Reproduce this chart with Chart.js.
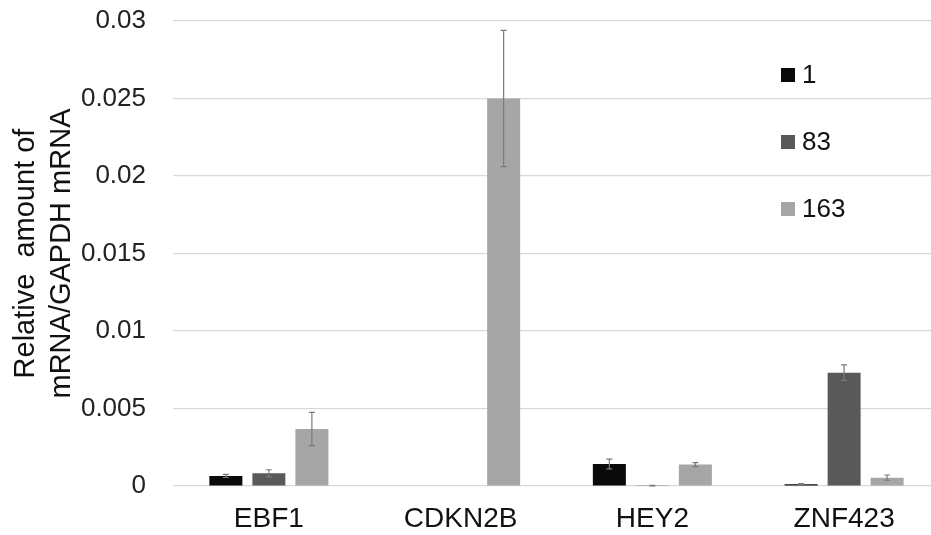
<!DOCTYPE html>
<html lang="en">
<head>
  <meta charset="UTF-8">
  <title>Relative mRNA amounts</title>
  <style>
    html, body { margin: 0; padding: 0; background: #fff; overflow: hidden; }
    #wrap { width: 940px; height: 535px; }
  </style>
  <script src="https://cdn.jsdelivr.net/npm/chart.js"></script>
</head>
<body>
  <div id="wrap">
    <canvas id="barChart" width="940" height="535"></canvas>
  </div>
  <script>
    // data
    const genes = ['EBF1', 'CDKN2B', 'HEY2', 'ZNF423'];
    const seriesNames = ['1', '83', '163'];
    const seriesColors = ['#0a0a0a', '#595959', '#a6a6a6'];

    const vals1 = [0.00065, 0, 0.00142, 0.00012];
    const vals83 = [0.00082, 0, 0.00001, 0.00731];
    const vals163 = [0.00368, 0.0250, 0.00138, 0.00054];

    const err1 = [0.0001, 0, 0.00032, 0.00003];
    const err83 = [0.00023, 0, 0.00003, 0.0005];
    const err163 = [0.00107, 0.0044, 0.00013, 0.00017];

    const yTicks = [0, 0.005, 0.01, 0.015, 0.02, 0.025, 0.03];
    const yTitle = ['Relative  amount of', 'mRNA/GAPDH mRNA'];

    const values = [vals1, vals83, vals163];
    const errors = [err1, err83, err163];

    // error bars drawn through the scales
    const errorBars = {
      id: 'errorBars',
      afterDatasetsDraw(chart) {
        const ctx = chart.ctx;
        const y = chart.scales.y;
        ctx.save();
        ctx.strokeStyle = '#7a7a7a';
        ctx.lineWidth = 1.2;
        chart.data.datasets.forEach((ds, di) => {
          const meta = chart.getDatasetMeta(di);
          meta.data.forEach((bar, i) => {
            const e = errors[di][i];
            if (!e) return;
            const v = ds.data[i];
            const top = y.getPixelForValue(v + e);
            const bot = y.getPixelForValue(Math.max(0, v - e));
            ctx.beginPath();
            ctx.moveTo(bar.x, top);
            ctx.lineTo(bar.x, bot);
            ctx.moveTo(bar.x - 3, top);
            ctx.lineTo(bar.x + 3, top);
            ctx.moveTo(bar.x - 3, bot);
            ctx.lineTo(bar.x + 3, bot);
            ctx.stroke();
          });
        });
        ctx.restore();
      }
    };

    // legend stacked inside the plot, top right
    const insideLegend = {
      id: 'insideLegend',
      afterDraw(chart) {
        const ctx = chart.ctx;
        ctx.save();
        ctx.font = '26px "Liberation Sans", Arial, sans-serif';
        ctx.textBaseline = 'middle';
        ctx.textAlign = 'left';
        chart.data.datasets.forEach((ds, i) => {
          const cy = 75 + i * 67;
          ctx.fillStyle = ds.backgroundColor;
          ctx.fillRect(781, cy - 7, 14, 14);
          ctx.fillStyle = '#111';
          ctx.fillText(ds.label, 802, cy + 1);
        });
        ctx.restore();
      }
    };

    new Chart(document.getElementById('barChart'), {
      type: 'bar',
      data: {
        labels: genes,
        datasets: seriesNames.map((name, i) => ({
          label: name,
          data: values[i],
          backgroundColor: seriesColors[i],
          borderWidth: 0,
          barPercentage: 0.767,
          categoryPercentage: 0.673
        }))
      },
      options: {
        responsive: false,
        animation: false,
        layout: { padding: { top: 21, right: 0, bottom: 0, left: 0 } },
        plugins: {
          legend: { display: false },
          tooltip: { enabled: false }
        },
        scales: {
          x: {
            grid: { display: false, drawTicks: false },
            border: { display: false },
            ticks: {
              padding: 16,
              color: '#111',
              font: { family: '"Liberation Sans", Arial, sans-serif', size: 28, lineHeight: 1.2 }
            },
            afterFit(scale) { scale.height = 49; }
          },
          y: {
            min: 0,
            max: 0.03,
            afterBuildTicks(scale) {
              scale.ticks = yTicks.map(v => ({ value: v }));
            },
            grid: { color: '#d9d9d9', lineWidth: 1.2, drawTicks: false },
            border: { display: false },
            ticks: {
              padding: 27,
              color: '#222',
              font: { family: '"Liberation Sans", Arial, sans-serif', size: 26 },
              callback: v => String(v)
            },
            title: {
              display: true,
              text: yTitle,
              color: '#111',
              padding: { top: 8, bottom: 0 },
              font: { family: '"Liberation Sans", Arial, sans-serif', size: 29, lineHeight: 1.24 }
            },
            afterFit(scale) {
              scale.width = 173;
              scale.paddingTop = 0;
              scale.paddingBottom = 0;
            }
          }
        }
      },
      plugins: [errorBars, insideLegend]
    });
  </script>
</body>
</html>
